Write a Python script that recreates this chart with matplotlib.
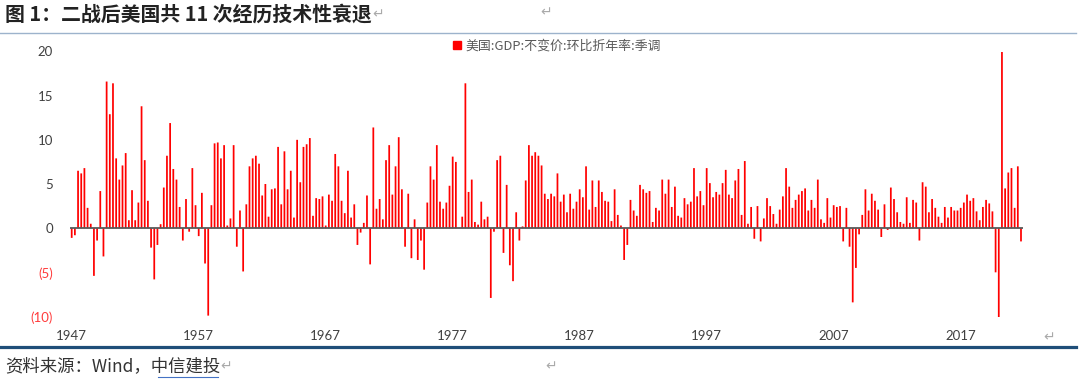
import numpy as np
import matplotlib
matplotlib.use("Agg")
import matplotlib.pyplot as plt
from matplotlib.patches import Patch
from matplotlib.lines import Line2D

# US real GDP, q/q annualized, SA (1947Q2 - 2022Q1)
gdp_growth = [
    -1.1, -0.8, 6.5,                 # 1947 Q2-Q4
    6.2, 6.8, 2.3, 0.5,              # 1948
    -5.4, -1.4, 4.2, -3.2,           # 1949
    16.6, 12.9, 16.4, 7.9,           # 1950
    5.5, 7.1, 8.5, 0.9,              # 1951
    4.3, 0.9, 2.9, 13.8,             # 1952
    7.7, 3.1, -2.2, -5.8,            # 1953
    -1.9, 0.45, 4.6, 8.2,            # 1954
    11.9, 6.7, 5.5, 2.4,             # 1955
    -1.4, 3.3, -0.4, 6.8,            # 1956
    2.6, -0.9, 4.0, -4.0,            # 1957
    -9.9, 2.6, 9.6, 9.7,             # 1958
    7.9, 9.4, 0.3, 1.1,              # 1959
    9.4, -2.1, 2.0, -4.9,            # 1960
    2.7, 7.0, 7.9, 8.2,              # 1961
    7.3, 3.7, 5.0, 1.3,              # 1962
    4.4, 4.5, 9.2, 2.7,              # 1963
    8.7, 4.4, 6.5, 1.2,              # 1964
    10.0, 5.2, 9.2, 9.5,             # 1965
    10.2, 1.4, 3.4, 3.3,             # 1966
    3.6, 0.3, 3.8, 3.1,              # 1967
    8.4, 7.0, 3.1, 1.7,              # 1968
    6.5, 1.2, 2.7, -1.9,             # 1969
    -0.5, 0.6, 3.7, -4.1,            # 1970
    11.4, 2.2, 3.3, 1.0,             # 1971
    7.7, 9.4, 3.8, 7.0,              # 1972
    10.3, 4.4, -2.1, 3.9,            # 1973
    -3.4, 1.0, -3.6, -1.4,           # 1974
    -4.7, 2.9, 7.0, 5.5,             # 1975
    9.4, 3.0, 2.2, 2.9,              # 1976
    4.8, 8.1, 7.5, 0.0,              # 1977
    1.3, 16.4, 4.1, 5.5,             # 1978
    0.7, 0.4, 3.0, 1.0,              # 1979
    1.3, -7.9, -0.4, 7.7,            # 1980
    8.2, -2.8, 4.9, -4.2,            # 1981
    -6.0, 1.8, -1.4, 0.2,            # 1982
    5.4, 9.4, 8.2, 8.6,              # 1983
    8.2, 7.1, 3.9, 3.3,              # 1984
    3.9, 3.6, 6.2, 3.0,              # 1985
    3.8, 1.8, 3.9, 2.2,              # 1986
    3.0, 4.4, 3.5, 7.0,              # 1987
    2.1, 5.4, 2.4, 5.4,              # 1988
    4.1, 3.1, 3.0, 0.8,              # 1989
    4.4, 1.5, 0.3, -3.6,             # 1990
    -1.9, 3.2, 2.0, 1.4,             # 1991
    4.9, 4.4, 4.0, 4.2,              # 1992
    0.7, 2.3, 2.0, 5.5,              # 1993
    3.9, 5.5, 2.4, 4.7,              # 1994
    1.4, 1.2, 3.4, 2.7,              # 1995
    3.0, 6.8, 3.6, 4.2,              # 1996
    2.6, 6.8, 5.1, 3.5,              # 1997
    4.1, 3.8, 5.1, 6.6,              # 1998
    3.8, 3.4, 5.4, 6.7,              # 1999
    1.5, 7.6, 0.5, 2.4,              # 2000
    -1.2, 2.5, -1.5, 1.1,            # 2001
    3.4, 2.5, 1.6, 0.5,              # 2002
    2.1, 3.6, 6.8, 4.7,              # 2003
    2.3, 3.2, 3.8, 4.2,              # 2004
    4.5, 2.0, 3.2, 2.3,              # 2005
    5.5, 1.0, 0.6, 3.4,              # 2006
    1.2, 2.6, 2.4, 2.5,              # 2007
    -1.5, 2.3, -2.1, -8.4,           # 2008
    -4.5, -0.7, 1.5, 4.4,            # 2009
    2.0, 3.9, 3.1, 2.1,              # 2010
    -1.0, 2.7, -0.2, 4.6,            # 2011
    3.3, 1.8, 0.7, 0.5,              # 2012
    3.5, 0.6, 3.2, 2.9,              # 2013
    -1.4, 5.2, 4.7, 1.8,             # 2014
    3.3, 2.3, 1.3, 0.6,              # 2015
    2.4, 1.2, 2.4, 2.0,              # 2016
    2.0, 2.3, 2.9, 3.8,              # 2017
    3.1, 3.4, 1.9, 0.9,              # 2018
    2.4, 3.2, 2.8, 1.9,              # 2019
    -5.0, -31.2, 33.8, 4.5,          # 2020
    6.3, 6.8, 2.3, 7.0,              # 2021
    -1.5,                            # 2022 Q1
]
first_year, first_q = 1947, 2
tick_years = [1947, 1957, 1967, 1977, 1987, 1997, 2007, 2017]
yticks = [-10, -5, 0, 5, 10, 15, 20]
ytick_labels = ["(10)", "(5)", "0", "5", "10", "15", "20"]
series_name = "美国:GDP:不变价:环比折年率:季调"
title = "图 1：二战后美国共 11 次经历技术性衰退"
source = "资料来源：Wind，中信建投"

cjk = ["Noto Sans CJK SC", "DejaVu Sans"]
plt.rcParams["font.family"] = cjk

W, H = 1080, 383
fig = plt.figure(figsize=(W / 100, H / 100), dpi=100)

def fx(px):
    return px / W

def fy(py):
    return 1 - py / H

ax = fig.add_axes([fx(69.8), fy(316.5), fx(1022.9) - fx(69.8), fy(51.5) - fy(316.5)])

x = np.arange(len(gdp_growth))
ax.bar(x, gdp_growth, width=0.55, color="#ff0000", linewidth=0, snap=False)
ax.axhline(0, color="#595959", lw=1.3, zorder=3)

ax.set_xlim(-0.6, len(gdp_growth) - 0.4)
ax.set_ylim(-10, 20)
for s in ax.spines.values():
    s.set_visible(False)

# tick at Q2 of each labelled year (matches the category axis of the source)
tick_pos = [(y - first_year) * 4 + (2 - first_q) for y in tick_years]
ax.set_xticks(tick_pos)
ax.set_xticklabels([str(y) for y in tick_years], fontsize=9.5, color="#404040",
                   family="Lato")
ax.tick_params(axis="x", length=0, pad=10)

ax.set_yticks(yticks)
ax.set_yticklabels(ytick_labels, fontsize=9.5, family="Lato")
ax.tick_params(axis="y", length=0, pad=12)
for t, v in zip(ax.get_yticklabels(), yticks):
    t.set_color("#ff3b3b" if v < 0 else "#404040")

fig.legend(handles=[Patch(color="#ff0000", label=series_name)],
           loc="center", bbox_to_anchor=(fx(557), fy(46)), frameon=False,
           fontsize=9.3, handlelength=0.6, handleheight=0.6, handletextpad=0.4,
           labelcolor="#595959")

# header / footer
fig.text(fx(5), fy(14), title, fontsize=14.3, fontweight="bold", color="#222222",
         va="center", ha="left")
fig.text(fx(372), fy(14), "↵", fontsize=10, color="#aaaaaa", va="center", family="DejaVu Sans")
fig.text(fx(540), fy(12), "↵", fontsize=10, color="#aaaaaa", va="center", family="DejaVu Sans")
fig.add_artist(Line2D([0, fx(1076)], [fy(33), fy(33)], color="#9db3cc", lw=1))

fig.text(fx(1043), fy(337), "↵", fontsize=10, color="#aaaaaa", va="center", family="DejaVu Sans")
fig.add_artist(Line2D([0, fx(1076)], [fy(347), fy(347)], color="#1f4e79", lw=2.3))

fig.text(fx(5), fy(366), source, fontsize=12.5, color="#333333", va="center", ha="left")
fig.add_artist(Line2D([fx(158), fx(218)], [fy(377), fy(377)], color="#4472c4", lw=0.8))
fig.text(fx(220), fy(366), "↵", fontsize=10, color="#aaaaaa", va="center", family="DejaVu Sans")
fig.text(fx(545), fy(366), "↵", fontsize=10, color="#aaaaaa", va="center", family="DejaVu Sans")

fig.savefig("out.png", dpi=100)
